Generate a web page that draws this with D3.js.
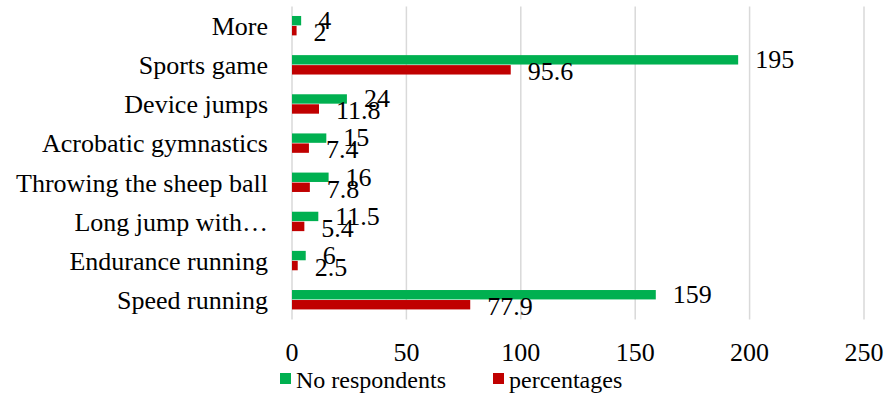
<!DOCTYPE html>
<html>
<head>
<meta charset="utf-8">
<script src="https://cdn.jsdelivr.net/npm/d3@7"></script>
<style>
  html, body { margin: 0; padding: 0; background: #fff; }
  svg text { font-family: "Liberation Serif", "Times New Roman", serif; fill: #000; }
</style>
</head>
<body>
<svg id="chart" width="888" height="397"></svg>
<script>
// chart data
const categories = ['More', 'Sports game', 'Device jumps', 'Acrobatic gymnastics',
  'Throwing the sheep ball', 'Long jump with\u2026', 'Endurance running', 'Speed running'];
const respondents = [4, 195, 24, 15, 16, 11.5, 6, 159];
const percentages = [2, 95.6, 11.8, 7.4, 7.8, 5.4, 2.5, 77.9];
const xTicks = [0, 50, 100, 150, 200, 250];
const seriesNames = ['No respondents', 'percentages'];
const colors = ['#00b050', '#c00000'];

const svg = d3.select('#chart');

const x = d3.scaleLinear().domain([0, 250]).range([292, 864]);
const y = d3.scaleBand().domain(categories).range([6.4, 319.6]);
const bw = y.bandwidth();
// two bars per category, 10px each, centred in the band
const ySub = d3.scaleBand().domain(seriesNames).range([bw / 2 - 10, bw / 2 + 10]);

// gridlines
svg.append('g')
  .selectAll('line')
  .data(xTicks)
  .join('line')
  .attr('x1', d => x(d)).attr('x2', d => x(d))
  .attr('y1', 6.4).attr('y2', 319.6)
  .attr('stroke', '#d9d9d9')
  .attr('stroke-width', 1.5);

// tick labels
svg.append('g')
  .selectAll('text')
  .data(xTicks)
  .join('text')
  .attr('x', d => x(d))
  .attr('y', 361)
  .attr('text-anchor', 'middle')
  .style('font-size', '26px')
  .text(d => d);

// category labels
svg.append('g')
  .selectAll('text')
  .data(categories)
  .join('text')
  .attr('x', 268)
  .attr('y', d => y(d) + bw / 2 + 9)
  .attr('text-anchor', 'end')
  .style('font-size', '26px')
  .text(d => d);

const series = [respondents, percentages];

series.forEach((vals, si) => {
  const g = svg.append('g');
  const rows = categories.map((c, i) => ({ c, v: vals[i] }));

  g.selectAll('rect')
    .data(rows)
    .join('rect')
    .attr('x', x(0))
    .attr('y', d => y(d.c) + ySub(seriesNames[si]))
    .attr('width', d => x(d.v) - x(0))
    .attr('height', ySub.bandwidth() - 0.6)
    .attr('fill', colors[si]);

  // value labels, Excel puts them outside the end
  g.selectAll('text')
    .data(rows)
    .join('text')
    .attr('x', d => x(d.v) + 17)
    .attr('y', d => y(d.c) + ySub(seriesNames[si]) + ySub.bandwidth() / 2 + (si === 0 ? 8 : 10))
    .style('font-size', '26px')
    .text(d => d.v);
});

// legend
const legend = svg.append('g');
const legendX = [280, 493];
seriesNames.forEach((name, i) => {
  legend.append('rect')
    .attr('x', legendX[i]).attr('y', 373)
    .attr('width', 11).attr('height', 11)
    .attr('fill', colors[i]);
  legend.append('text')
    .attr('x', legendX[i] + 16).attr('y', 388)
    .style('font-size', '24px')
    .text(name);
});
</script>
</body>
</html>
